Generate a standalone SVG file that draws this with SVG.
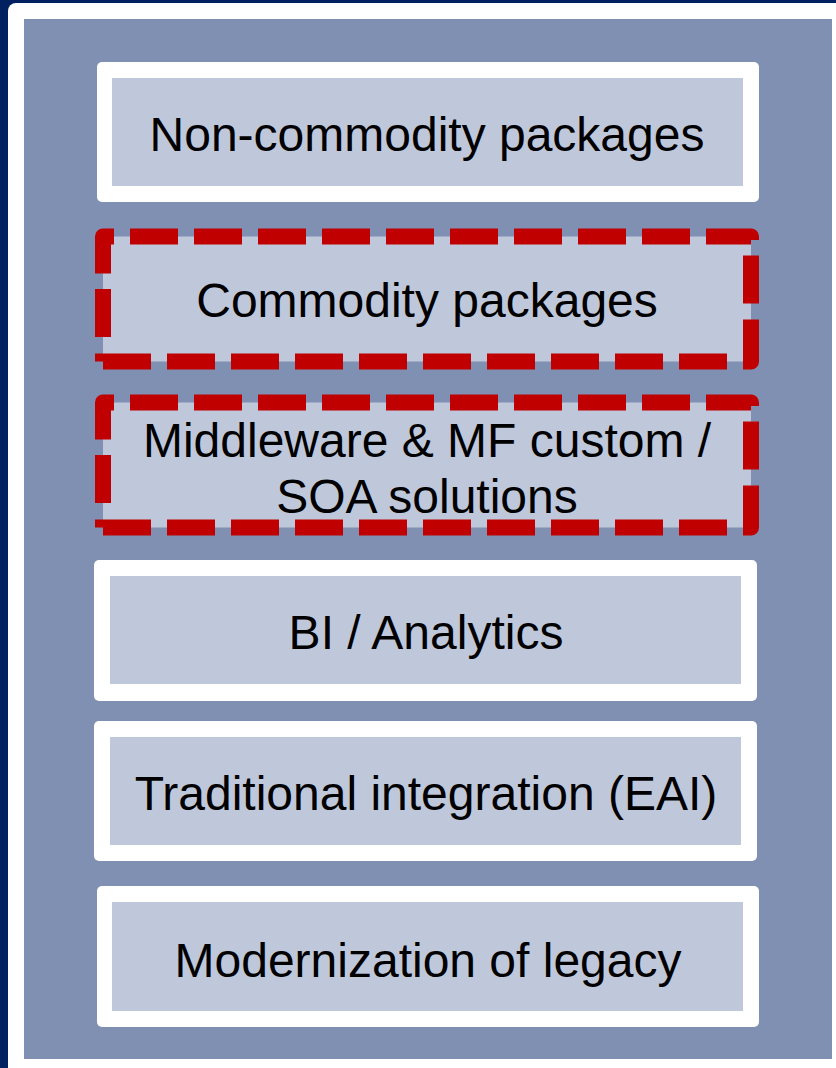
<svg xmlns="http://www.w3.org/2000/svg" width="836" height="1068" viewBox="0 0 836 1068">
<style>
.wb{fill:#FFFFFF}
.in{fill:#BFC8DA}
.dash{fill:none;stroke:#C00000;stroke-width:16;stroke-linecap:butt;stroke-linejoin:round}
.t{font-family:"Liberation Sans",Arial,sans-serif;font-size:48px;fill:#000000;text-anchor:middle}
</style>
<defs>
<path id="dashes" d="M103,273.5 V236.5 H114 M130,236.5 h48 M194,236.5 h48 M258,236.5 h48 M322,236.5 h48 M386,236.5 h48 M450,236.5 h48 M514,236.5 h48 M578,236.5 h48 M642,236.5 h48 M706,236.5 H751 V240 M751,255.5 V303.5 M751,319.5 V361.5 H743 M727,361.5 h-48 M663,361.5 h-48 M599,361.5 h-48 M535,361.5 h-48 M471,361.5 h-48 M407,361.5 h-48 M343,361.5 h-48 M279,361.5 h-48 M215,361.5 h-48 M151,361.5 H103 M103,361.5 V353.5 M103,337 V289"/>
</defs>
<rect x="0" y="0" width="836" height="1068" fill="#002060"/>
<rect x="8" y="3" width="840" height="1080" rx="8" fill="#FFFFFF"/>
<rect x="24" y="19" width="808" height="1040" fill="#7F90B2"/>

<g id="node-non-commodity">
<rect class="wb" x="97" y="62" width="662" height="140" rx="5"/>
<rect class="in" x="112" y="78" width="631" height="108"/>
<text class="t" x="427" y="151">Non-commodity packages</text>
</g>

<g id="node-commodity">
<rect class="in" x="103" y="236.5" width="648" height="125"/>
<use href="#dashes" class="dash"/>
<text class="t" x="427" y="317">Commodity packages</text>
</g>

<g id="node-middleware">
<rect class="in" x="103" y="402.5" width="648" height="125"/>
<use href="#dashes" class="dash" transform="translate(0,166)"/>
<text class="t" x="427" y="457">Middleware &amp; MF custom /</text>
<text class="t" x="427" y="513">SOA solutions</text>
</g>

<g id="node-bi">
<rect class="wb" x="94" y="560" width="663" height="141" rx="5"/>
<rect class="in" x="110" y="576" width="631" height="108"/>
<text class="t" x="426" y="649">BI / Analytics</text>
</g>

<g id="node-eai">
<rect class="wb" x="94" y="721" width="663" height="140" rx="5"/>
<rect class="in" x="110" y="737" width="631" height="108"/>
<text class="t" x="426" y="810">Traditional integration (EAI)</text>
</g>

<g id="node-legacy">
<rect class="wb" x="97" y="886" width="662" height="141" rx="5"/>
<rect class="in" x="112" y="902" width="631" height="109"/>
<text class="t" x="428" y="977">Modernization of legacy</text>
</g>

<g id="connectors"></g>
</svg>
